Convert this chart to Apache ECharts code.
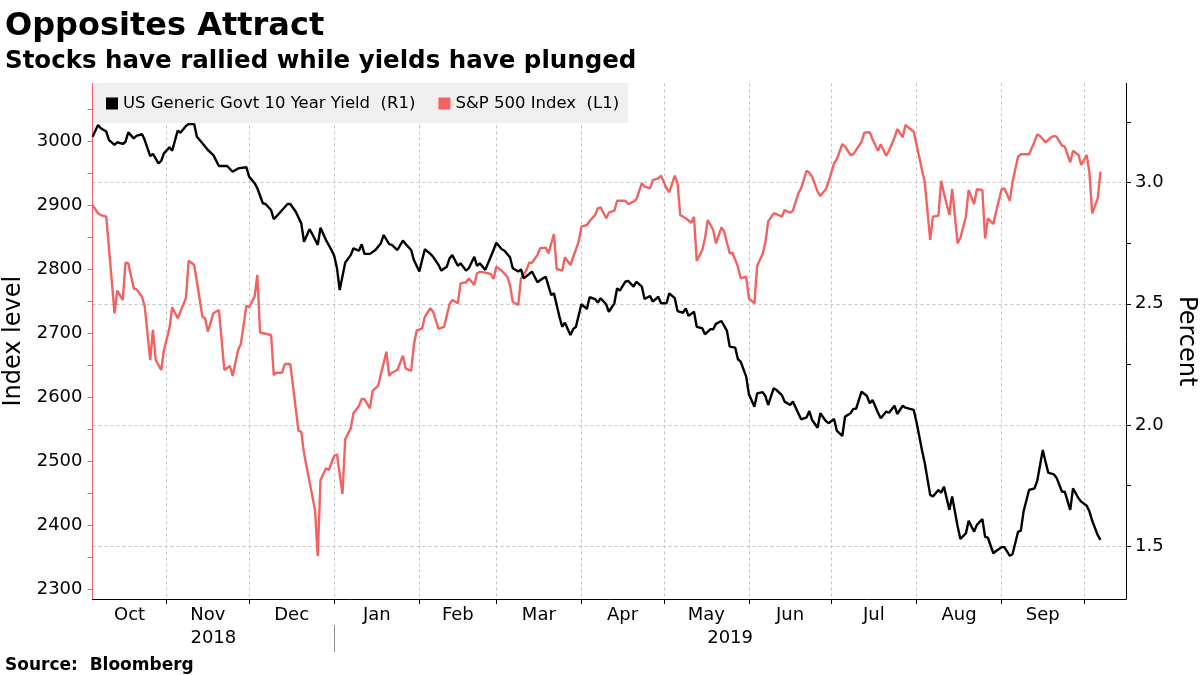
<!DOCTYPE html>
<html>
<head>
<meta charset="utf-8">
<script src="https://cdn.jsdelivr.net/npm/echarts@6/dist/echarts.min.js"></script>
<style>
html,body{margin:0;padding:0;background:#fff;}
#chart{width:1200px;height:675px;}
</style>
</head>
<body>
<div id="chart"></div>
<script>
// x values are calendar days counted from 2018-10-04
const yieldDay = [
  1,3,4,6,7,9,10,12,13,14,16,17,19,20,22,23,25,26,27,29,
  30,32,33,35,36,38,39,41,43,45,47,50,52,54,57,58,60,61,63,64,
  66,67,69,72,73,75,77,78,80,81,83,84,86,88,89,90,91,93,95,96,
  98,99,100,102,104,106,107,109,110,112,114,115,117,118,120,121,122,124,125,127,
  128,130,131,132,134,135,137,138,140,141,142,144,146,147,148,150,151,153,154,156,
  157,158,160,161,163,165,166,168,169,171,172,173,175,176,177,179,181,182,184,185,
  186,188,189,191,192,193,195,196,198,199,201,202,204,205,207,208,210,211,213,214,
  216,217,218,220,221,223,224,226,227,228,230,232,233,235,236,237,239,240,242,243,
  245,246,247,249,250,252,253,255,256,259,261,262,263,265,266,268,269,271,272,274,
  275,277,278,279,281,283,284,285,287,288,290,291,293,294,296,297,300,301,303,304,
  306,307,309,310,311,313,314,316,317,319,320,322,323,325,326,327,329,330,332,333,
  335,336,338,339,340,342,344,345,347,348,349,351,352,354,355,357,358,360,361,363,
  364,365,367,368
];
const yieldVal = [
  3.190,3.238,3.225,3.211,3.176,3.156,3.167,3.160,3.169,3.208,3.183,3.193,3.201,3.176,3.110,3.119,3.080,3.090,3.121,3.146,
  3.132,3.215,3.206,3.234,3.242,3.242,3.190,3.163,3.135,3.114,3.069,3.069,3.045,3.059,3.064,3.025,2.998,2.977,2.915,2.912,
  2.887,2.849,2.874,2.912,2.912,2.880,2.832,2.756,2.808,2.788,2.743,2.814,2.763,2.722,2.697,2.647,2.557,2.670,2.701,2.729,
  2.719,2.746,2.706,2.706,2.722,2.750,2.784,2.746,2.743,2.722,2.761,2.747,2.722,2.681,2.633,2.681,2.725,2.706,2.694,2.660,
  2.637,2.653,2.688,2.701,2.657,2.667,2.637,2.647,2.694,2.656,2.667,2.640,2.694,2.722,2.752,2.725,2.719,2.692,2.647,2.633,
  2.642,2.605,2.623,2.633,2.589,2.605,2.612,2.536,2.543,2.447,2.405,2.422,2.371,2.395,2.405,2.498,2.479,2.527,2.519,2.505,
  2.523,2.498,2.467,2.502,2.564,2.554,2.591,2.595,2.571,2.591,2.571,2.520,2.532,2.509,2.529,2.502,2.502,2.543,2.523,2.470,
  2.463,2.481,2.450,2.467,2.405,2.399,2.374,2.395,2.395,2.417,2.429,2.388,2.323,2.319,2.271,2.261,2.199,2.126,2.075,2.130,
  2.135,2.119,2.082,2.151,2.144,2.123,2.096,2.082,2.096,2.023,2.031,2.057,2.020,1.988,2.048,2.016,2.007,2.024,1.976,1.954,
  2.034,2.048,2.066,2.066,2.137,2.119,2.089,2.103,2.050,2.027,2.055,2.050,2.079,2.045,2.079,2.071,2.062,2.013,1.896,1.844,
  1.711,1.704,1.731,1.720,1.745,1.649,1.704,1.580,1.529,1.552,1.604,1.559,1.587,1.611,1.538,1.534,1.470,1.479,1.495,1.495,
  1.459,1.467,1.559,1.562,1.642,1.731,1.738,1.770,1.896,1.848,1.803,1.796,1.782,1.724,1.724,1.649,1.738,1.697,1.683,1.666,
  1.642,1.604,1.545,1.525
];
const spxDay = [
  1,3,4,6,9,10,12,13,14,16,17,19,20,22,23,24,26,27,29,30,
  32,35,36,38,39,41,42,43,45,47,49,51,52,54,55,57,58,60,61,62,
  66,67,68,70,71,73,76,77,78,80,82,83,84,86,87,89,90,92,93,95,
  96,98,99,100,102,103,105,106,108,109,110,112,114,115,117,118,119,121,122,124,
  125,127,129,131,132,134,135,137,138,140,141,142,144,146,147,148,150,152,153,154,
  156,157,159,160,161,163,164,166,167,169,170,172,173,175,176,178,179,181,182,184,
  185,186,188,189,191,192,194,195,196,198,199,201,202,204,205,207,208,210,211,213,
  214,215,217,219,220,221,223,224,225,227,228,230,231,233,234,236,237,239,240,242,
  243,245,246,247,249,250,252,253,255,256,258,259,261,262,263,265,266,268,269,271,
  272,274,275,277,278,280,281,282,284,285,287,288,290,291,293,294,296,297,298,300,
  302,303,304,306,307,309,310,311,313,314,316,317,319,320,322,323,325,326,327,329,
  330,332,333,335,336,338,339,342,344,345,346,348,350,351,352,354,355,357,358,360,
  361,363,364,365,367,368
];
const spxVal = [
  2900.5,2887.5,2884.8,2882.2,2731.3,2766.6,2752.0,2810.3,2809.4,2770.3,2768.8,2757.2,2741.6,2658.3,2705.2,2658.3,2642.7,2673.9,2707.8,2740.6,
  2723.4,2754.7,2813.4,2806.7,2780.6,2725.9,2723.4,2702.5,2731.3,2736.4,2642.7,2648.9,2633.3,2673.9,2683.3,2743.1,2740.6,2757.2,2791.1,2701.3,
  2697.3,2634.8,2638.4,2638.4,2652.0,2652.0,2547.3,2546.3,2512.5,2468.1,2423.9,2352.0,2470.8,2489.1,2486.4,2508.3,2510.9,2448.9,2534.4,2551.6,
  2575.0,2586.4,2597.3,2597.3,2582.8,2610.3,2617.7,2636.4,2671.3,2633.3,2638.4,2642.7,2665.0,2645.3,2641.1,2681.7,2704.1,2707.8,2725.9,2739.1,
  2733.8,2706.7,2710.3,2745.8,2752.0,2746.9,2778.1,2779.7,2785.9,2775.5,2793.8,2796.3,2794.7,2792.7,2784.8,2804.1,2797.8,2788.4,2775.5,2749.4,
  2744.2,2785.9,2798.9,2810.3,2810.3,2822.3,2832.8,2833.8,2825.0,2855.2,2800.5,2797.8,2818.8,2806.7,2818.8,2843.1,2866.6,2869.2,2875.5,2884.8,
  2895.3,2896.9,2879.7,2888.4,2891.6,2907.2,2907.2,2907.2,2902.0,2905.6,2909.4,2934.4,2929.1,2926.6,2939.5,2942.2,2946.3,2926.6,2920.3,2946.3,
  2934.4,2884.8,2879.7,2872.8,2882.2,2813.0,2830.2,2848.4,2877.0,2861.4,2840.6,2865.6,2858.8,2825.0,2825.9,2804.1,2785.9,2788.4,2754.7,2746.9,
  2805.6,2823.9,2842.2,2874.4,2887.5,2886.4,2882.2,2892.7,2888.4,2891.6,2918.8,2926.6,2954.1,2950.9,2944.7,2921.3,2914.5,2925.0,2936.9,2965.6,
  2971.9,2995.8,2991.6,2978.6,2979.7,2992.7,2998.9,3013.4,3014.1,3003.1,2985.3,2995.3,2977.5,2985.3,3005.6,3019.2,3006.3,3025.5,3021.9,3015.0,
  2975.9,2955.2,2936.9,2845.8,2882.2,2883.8,2938.4,2918.8,2884.8,2925.5,2840.6,2849.4,2882.2,2923.9,2902.0,2925.0,2923.9,2848.4,2879.7,2870.8,
  2890.0,2925.0,2926.6,2907.2,2936.9,2975.9,2979.7,2979.7,2999.4,3010.9,3008.3,2998.4,3006.3,3008.3,3007.2,2993.1,2991.6,2967.2,2985.3,2978.6,
  2963.0,2978.6,2950.0,2887.5,2910.9,2952.5
];
const monthNames = ['Jan','Feb','Mar','Apr','May','Jun','Jul','Aug','Sep','Oct','Nov','Dec'];
const leftTicks = [2300,2350,2400,2450,2500,2550,2600,2650,2700,2750,2800,2850,2900,2950,3000,3050];
const leftLabels = [2300,2400,2500,2600,2700,2800,2900,3000];
const rightTicks = [1.5,1.75,2.0,2.25,2.5,2.75,3.0,3.25];
const rightLabels = [1.5,2.0,2.5,3.0];
const spxRange = [2284.8, 3090.5];
const yieldRange = [1.281, 3.41];

const DAY = 86400000;
const BASE = new Date(2018, 9, 4).getTime();
const toTime = d => BASE + d * DAY;
const xMin = toTime(0.98), xMax = toTime(377.3);

const monthStarts = [];
for (let i = 0; i < 12; i++) monthStarts.push(new Date(2018, 10 + i, 1).getTime());
const monthLabelPos = [];
for (let i = 0; i < 12; i++) {
  const s = Math.max(new Date(2018, 9 + i, 1).getTime(), xMin);
  const e = Math.min(new Date(2018, 10 + i, 1).getTime(), xMax);
  monthLabelPos.push((s + e) / 2);
}
const yearBreak = new Date(2019, 0, 1).getTime();
const yearLabelPos = [(xMin + yearBreak) / 2, (yearBreak + xMax) / 2];

const RED = '#f26260';
const FONT = 'DejaVu Sans';
const GRID = '#c4c4c4';

const chart = echarts.init(document.getElementById('chart'), null, {renderer: 'canvas'});
chart.setOption({
  animation: false,
  backgroundColor: '#fff',
  textStyle: {fontFamily: FONT, color: '#000'},
  title: [
    {text: 'Opposites Attract', subtext: 'Stocks have rallied while yields have plunged',
     left: 0, top: 7, padding: [4, 5], itemGap: 6,
     textStyle: {fontFamily: FONT, fontSize: 32, fontWeight: 'bold', color: '#000'},
     subtextStyle: {fontFamily: FONT, fontSize: 24.5, fontWeight: 'bold', color: '#000'}},
    {text: 'Source:  Bloomberg', left: 0, top: 657, padding: [0, 5],
     textStyle: {fontFamily: FONT, fontSize: 17, fontWeight: 'bold', color: '#000'}}
  ],
  legend: {
    left: 93, top: 83, padding: [12, 9, 11, 13], itemGap: 23,
    itemWidth: 12, itemHeight: 12, icon: 'rect',
    backgroundColor: '#efefef',
    textStyle: {fontFamily: FONT, fontSize: 16.5, color: '#000'},
    data: ['US Generic Govt 10 Year Yield  (R1)', 'S&P 500 Index  (L1)']
  },
  grid: {left: 92.5, right: 74, top: 83.4, bottom: 76, containLabel: false, outerBoundsMode: 'none'},
  xAxis: [
    {type: 'value', min: xMin, max: xMax, position: 'bottom',
     axisLine: {show: true, lineStyle: {color: '#000', width: 1}},
     axisTick: {show: true, customValues: monthStarts, length: 5, lineStyle: {color: '#000'}},
     axisLabel: {show: true, customValues: monthLabelPos, hideOverlap: false, margin: 7,
                 fontFamily: FONT, fontSize: 18, color: '#000',
                 formatter: v => monthNames[new Date(v).getMonth()]},
     splitLine: {show: true, lineStyle: {type: [3, 3], color: GRID, width: 1}}},
    {type: 'value', min: xMin, max: xMax, position: 'bottom', offset: 26,
     axisLine: {show: false},
     axisTick: {show: true, customValues: [yearBreak], length: 27, lineStyle: {color: '#8c8c8c'}},
     axisLabel: {show: true, customValues: yearLabelPos, hideOverlap: false, margin: 4,
                 fontFamily: FONT, fontSize: 18, color: '#000',
                 formatter: v => String(new Date(v).getFullYear())},
     splitLine: {show: false}}
  ],
  yAxis: [
    {type: 'value', position: 'left', min: spxRange[0], max: spxRange[1],
     name: 'Index level', nameLocation: 'middle', nameGap: 52, nameRotate: 90,
     nameTextStyle: {fontFamily: FONT, fontSize: 24, color: '#000'},
     axisLine: {show: true, lineStyle: {color: RED, width: 1}},
     axisTick: {show: true, customValues: leftTicks, length: 5, lineStyle: {color: RED}},
     axisLabel: {show: true, customValues: leftLabels, margin: 10, fontFamily: FONT, fontSize: 18, color: '#000',
                 formatter: v => String(Math.round(v))},
     splitLine: {show: false}},
    {type: 'value', position: 'right', min: yieldRange[0], max: yieldRange[1],
     name: 'Percent', nameLocation: 'middle', nameGap: 45, nameRotate: -90,
     nameTextStyle: {fontFamily: FONT, fontSize: 24, color: '#000'},
     axisLine: {show: true, lineStyle: {color: '#000', width: 1}},
     axisTick: {show: true, customValues: rightTicks, length: 5, lineStyle: {color: '#000'}},
     axisLabel: {show: true, customValues: rightLabels, margin: 9, fontFamily: FONT, fontSize: 18, color: '#000',
                 formatter: v => Number(v).toFixed(1)},
     splitLine: {show: false}},
    {type: 'value', position: 'right', min: yieldRange[0], max: yieldRange[1],
     axisLine: {show: false},
     axisTick: {show: false, customValues: rightLabels},
     axisLabel: {show: false},
     splitLine: {show: true, lineStyle: {type: [3, 3], color: GRID, width: 1}}}
  ],
  series: [
    {name: 'US Generic Govt 10 Year Yield  (R1)', type: 'line', yAxisIndex: 1, xAxisIndex: 0,
     showSymbol: false, symbol: 'none', z: 4, color: '#000',
     lineStyle: {color: '#000', width: 2.4},
     data: yieldDay.map((d, i) => [toTime(d), yieldVal[i]])},
    {name: 'S&P 500 Index  (L1)', type: 'line', yAxisIndex: 0, xAxisIndex: 0,
     showSymbol: false, symbol: 'none', z: 3, color: RED,
     lineStyle: {color: RED, width: 2.4},
     data: spxDay.map((d, i) => [toTime(d), spxVal[i]])}
  ]
});
</script>
</body>
</html>
